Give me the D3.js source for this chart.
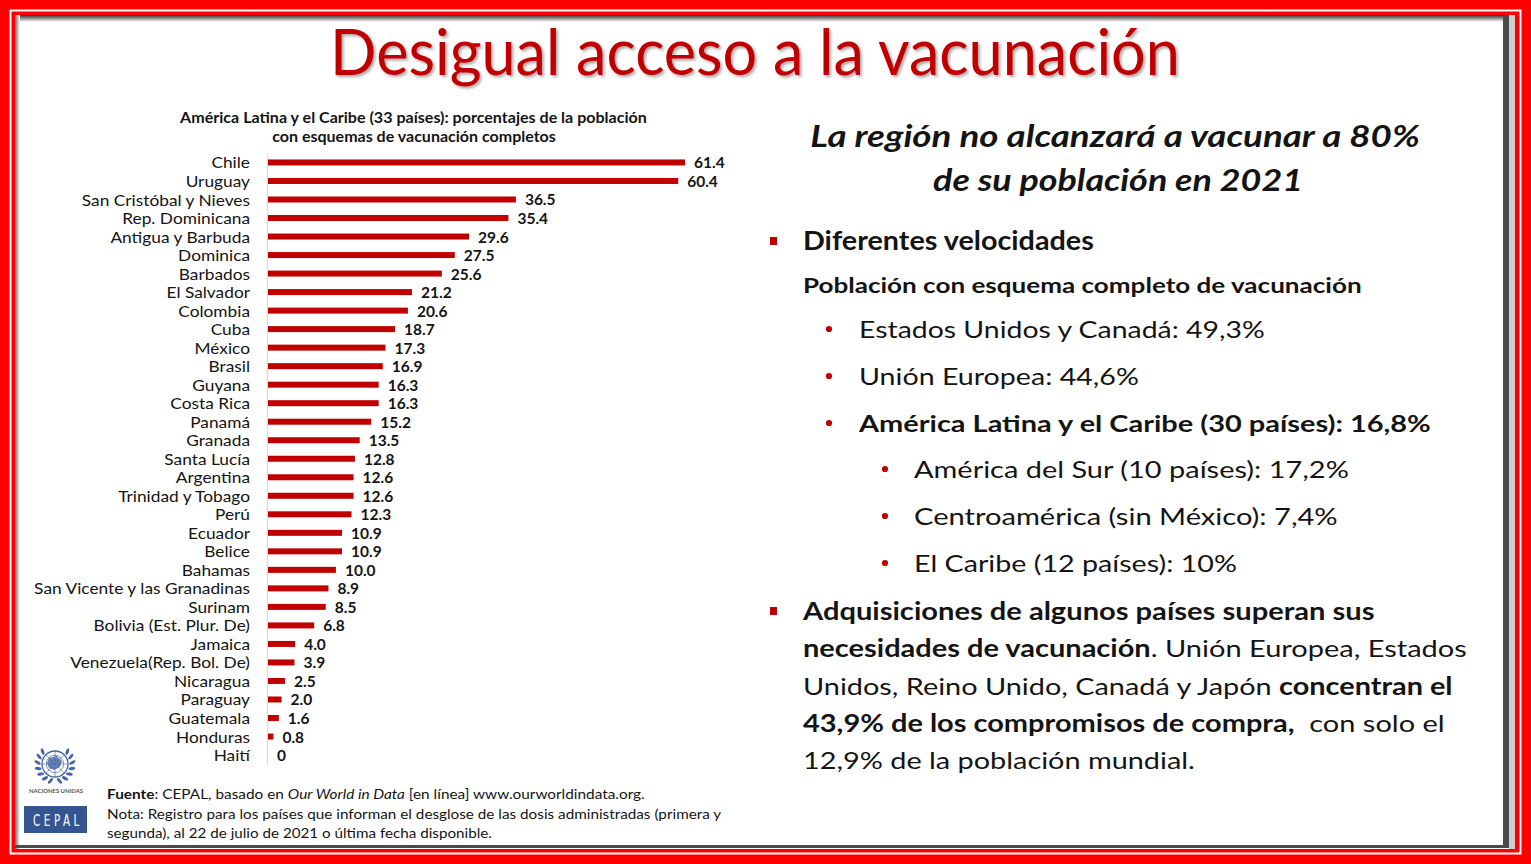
<!DOCTYPE html>
<html>
<head>
<meta charset="utf-8">
<script src="https://cdn.jsdelivr.net/npm/d3@7"></script>
<style>
  html, body { margin: 0; padding: 0; background: #fff; }
  svg { display: block; }
  text { white-space: pre; }
</style>
</head>
<body>
<svg id="chart" width="1531" height="864"></svg>
<script>
// ---------------- DATA ----------------
const countries = [
  "Chile", "Uruguay", "San Cristóbal y Nieves", "Rep. Dominicana", "Antigua y Barbuda",
  "Dominica", "Barbados", "El Salvador", "Colombia", "Cuba", "México", "Brasil", "Guyana",
  "Costa Rica", "Panamá", "Granada", "Santa Lucía", "Argentina", "Trinidad y Tobago", "Perú",
  "Ecuador", "Belice", "Bahamas", "San Vicente y las Granadinas", "Surinam",
  "Bolivia (Est. Plur. De)", "Jamaica", "Venezuela(Rep. Bol. De)", "Nicaragua", "Paraguay",
  "Guatemala", "Honduras", "Haití"
];
const values = [
  61.4, 60.4, 36.5, 35.4, 29.6, 27.5, 25.6, 21.2, 20.6, 18.7, 17.3, 16.9, 16.3,
  16.3, 15.2, 13.5, 12.8, 12.6, 12.6, 12.3, 10.9, 10.9, 10.0, 8.9, 8.5,
  6.8, 4.0, 3.9, 2.5, 2.0, 1.6, 0.8, 0
];
const valueLabels = [
  "61.4", "60.4", "36.5", "35.4", "29.6", "27.5", "25.6", "21.2", "20.6", "18.7", "17.3", "16.9", "16.3",
  "16.3", "15.2", "13.5", "12.8", "12.6", "12.6", "12.3", "10.9", "10.9", "10.0", "8.9", "8.5",
  "6.8", "4.0", "3.9", "2.5", "2.0", "1.6", "0.8", "0"
];
const pageTitle = "Desigual acceso a la vacunación";
const chartTitle = [
  "América Latina y el Caribe (33 países): porcentajes de la población",
  "con esquemas de vacunación completos"
];
const heading = ["La región no alcanzará a vacunar a 80%", "de su población en 2021"];
const bullet1 = "Diferentes velocidades";
const bullet1Sub = "Población con esquema completo de vacunación";
const level1Items = [
  [{t: "Estados Unidos y Canadá: 49,3%"}],
  [{t: "Unión Europea: 44,6%"}],
  [{t: "América Latina y el Caribe (30 países): 16,8%", b: true}]
];
const level2Items = [
  [{t: "América del Sur (10 países): 17,2%"}],
  [{t: "Centroamérica (sin México): 7,4%"}],
  [{t: "El Caribe (12 países): 10%"}]
];
const paragraph = [
  [{t: "Adquisiciones de algunos países superan sus", b: true}],
  [{t: "necesidades de vacunación", b: true}, {t: ". Unión Europea, Estados"}],
  [{t: "Unidos, Reino Unido, Canadá y Japón "}, {t: "concentran el", b: true}],
  [{t: "43,9% de los compromisos de compra,", b: true}, {t: "  con solo el"}],
  [{t: "12,9% de la población mundial."}]
];
const footer = [
  [{t: "Fuente", b: true}, {t: ": CEPAL, basado en "}, {t: "Our World in Data", i: true}, {t: " [en línea] www.ourworldindata.org."}],
  [{t: "Nota: Registro para los países que informan el desglose de las dosis administradas (primera y"}],
  [{t: "segunda), al 22 de julio de 2021 o última fecha disponible."}]
];

// ---------------- SETUP ----------------
const W = 1531, H = 864;
const FONT = "Lato, 'Open Sans', 'Noto Sans', sans-serif";
const RED = "#c00000";
const INK = "#141414";
const svg = d3.select("#chart");

const defs = svg.append("defs");
const sh = defs.append("filter").attr("id", "tshadow").attr("x", "-5%").attr("y", "-20%").attr("width", "110%").attr("height", "150%");
sh.append("feDropShadow").attr("dx", 2).attr("dy", 2).attr("stdDeviation", 1.4)
  .attr("flood-color", "#000").attr("flood-opacity", 0.35);
const gTop = defs.append("linearGradient").attr("id", "gTop").attr("x1", 0).attr("y1", 0).attr("x2", 0).attr("y2", 1);
gTop.append("stop").attr("offset", "0%").attr("stop-color", "#2e2e2e");
gTop.append("stop").attr("offset", "45%").attr("stop-color", "#8a8a8a");
gTop.append("stop").attr("offset", "100%").attr("stop-color", "#ffffff");
const gLeft = defs.append("linearGradient").attr("id", "gLeft").attr("x1", 0).attr("y1", 0).attr("x2", 1).attr("y2", 0);
gLeft.append("stop").attr("offset", "0%").attr("stop-color", "#6a6a6a");
gLeft.append("stop").attr("offset", "100%").attr("stop-color", "#ffffff");

// Frame
svg.append("rect").attr("x", 0).attr("y", 0).attr("width", W).attr("height", H).attr("fill", "#ff0000");
svg.append("rect").attr("x", 10.5).attr("y", 10.5).attr("width", W - 21).attr("height", H - 21)
  .attr("fill", "none").attr("stroke", "#ffffff").attr("stroke-width", 2);
svg.append("rect").attr("x", 15).attr("y", 15).attr("width", 1500).attr("height", 834).attr("fill", "#ffffff");
svg.append("rect").attr("x", 15).attr("y", 15).attr("width", 1500).attr("height", 7).attr("fill", "url(#gTop)");
svg.append("rect").attr("x", 15).attr("y", 15).attr("width", 5).attr("height", 834).attr("fill", "url(#gLeft)");
svg.append("rect").attr("x", 1503).attr("y", 15).attr("width", 6).attr("height", 833).attr("fill", "#4a4a4a");
svg.append("rect").attr("x", 1509).attr("y", 15).attr("width", 6).attr("height", 834).attr("fill", "#cfcfcf");
svg.append("rect").attr("x", 15).attr("y", 845).attr("width", 1494).attr("height", 3).attr("fill", "#4a4a4a");

// Text helper: draws text at origin then scales horizontally to a target width
function txt(parent, o) {
  const g = parent.append("g");
  const t = g.append("text")
    .attr("text-anchor", o.anchor || "start")
    .attr("font-family", o.family || FONT)
    .attr("font-size", o.size)
    .attr("font-weight", o.weight || 400)
    .attr("font-style", o.style || "normal")
    .attr("fill", o.fill || INK);
  if (o.spacing) t.attr("letter-spacing", o.spacing);
  o.parts.forEach(p => {
    const ts = t.append("tspan").text(p.t);
    if (p.b) ts.attr("font-weight", 700);
    if (p.i) ts.attr("font-style", "italic");
  });
  let s = 1;
  if (o.width) {
    const w = t.node().getComputedTextLength();
    if (w > 0) s = o.width / w;
  }
  g.attr("transform", `translate(${o.x},${o.y}) scale(${s},1)`);
  return g;
}

// ---------------- TITLE ----------------
txt(svg, {x: 755, y: 75, anchor: "middle", size: 64, fill: RED, width: 850, parts: [{t: pageTitle}]})
  .attr("filter", "url(#tshadow)");

// ---------------- CHART ----------------
txt(svg, {x: 413.5, y: 122.5, anchor: "middle", size: 14.5, weight: 700, width: 467, parts: [{t: chartTitle[0]}]});
txt(svg, {x: 414, y: 142, anchor: "middle", size: 14.5, weight: 700, width: 284, parts: [{t: chartTitle[1]}]});

const y = d3.scalePoint().domain(countries).range([153.2, 764.3]).padding(0.5);
const x = d3.scaleLinear().domain([0, 61.4]).range([268, 685]);

const axisG = svg.append("g").attr("transform", "translate(267,0)")
  .call(d3.axisLeft(y).tickSize(0).tickPadding(17));
axisG.select(".domain").attr("stroke", "#d9d9d9").attr("stroke-width", 1.2);
axisG.selectAll(".tick text")
  .attr("font-family", FONT).attr("font-size", 15.5).attr("fill", INK)
  .attr("x", 0).attr("dy", null).attr("y", 5.5);
let probe = null;
axisG.selectAll(".tick text").each(function(d) { if (d === "San Vicente y las Granadinas") probe = this; });
const labScale = probe ? 216 / probe.getComputedTextLength() : 1;
axisG.selectAll(".tick text").attr("transform", `translate(-17,0) scale(${labScale},1)`);

const rows = countries.map((c, i) => ({c, v: values[i], l: valueLabels[i]}));
svg.append("g").selectAll("rect").data(rows).join("rect")
  .attr("x", x(0)).attr("y", d => y(d.c) - 3)
  .attr("width", d => x(d.v) - x(0)).attr("height", 6)
  .attr("fill", RED);
svg.append("g").selectAll("text").data(rows).join("text")
  .attr("x", d => x(d.v) + 9).attr("y", d => y(d.c) + 6)
  .attr("font-family", FONT).attr("font-size", 15.5).attr("font-weight", 700).attr("fill", INK)
  .text(d => d.l);

// ---------------- RIGHT TEXT ----------------
txt(svg, {x: 1115, y: 147, anchor: "middle", size: 30, weight: 700, style: "italic", width: 610, parts: [{t: heading[0]}]});
txt(svg, {x: 1118, y: 191, anchor: "middle", size: 30, weight: 700, style: "italic", width: 370, parts: [{t: heading[1]}]});

function square(cy) {
  svg.append("rect").attr("x", 770).attr("y", cy - 3.5).attr("width", 7).attr("height", 8).attr("fill", RED);
}
function dot(cx, cy) {
  svg.append("circle").attr("cx", cx).attr("cy", cy).attr("r", 3.1).attr("fill", RED);
}
square(240.5);
txt(svg, {x: 803, y: 250, size: 27, weight: 700, width: 291, parts: [{t: bullet1}]});
txt(svg, {x: 803, y: 293, size: 21.5, weight: 700, width: 559, parts: [{t: bullet1Sub}]});

const l1Y = [338, 385, 432], l1W = [406, 280, 572];
level1Items.forEach((parts, i) => {
  dot(829, l1Y[i] - 9);
  txt(svg, {x: 859, y: l1Y[i], size: 23.5, width: l1W[i], parts});
});
const l2Y = [478, 525, 572], l2W = [435, 424, 323];
level2Items.forEach((parts, i) => {
  dot(885, l2Y[i] - 9);
  txt(svg, {x: 914, y: l2Y[i], size: 23.5, width: l2W[i], parts});
});

square(610.5);
const pY = [620, 657, 695, 732, 769], pW = [572, 664, 650, 642, 392];
paragraph.forEach((parts, i) => {
  txt(svg, {x: 803, y: pY[i], size: 24, width: pW[i], parts});
});

// ---------------- FOOTER ----------------
const fY = [799, 818.5, 837.5], fW = [538, 615, 385];
footer.forEach((parts, i) => {
  txt(svg, {x: 107, y: fY[i], size: 14, width: fW[i], parts});
});

// ---------------- LOGOS ----------------
const BLUE = "#4565a3";
const un = svg.append("g").attr("transform", "translate(55,764)");
un.append("circle").attr("r", 13).attr("fill", "none").attr("stroke", BLUE).attr("stroke-width", 1.3);
un.append("circle").attr("r", 8.7).attr("fill", "none").attr("stroke", BLUE).attr("stroke-width", 0.7);
un.append("circle").attr("r", 4.3).attr("fill", "none").attr("stroke", BLUE).attr("stroke-width", 0.7);
un.append("line").attr("x1", -13).attr("x2", 13).attr("y1", 0).attr("y2", 0).attr("stroke", BLUE).attr("stroke-width", 0.6);
un.append("line").attr("x1", 0).attr("x2", 0).attr("y1", -13).attr("y2", 13).attr("stroke", BLUE).attr("stroke-width", 0.6);
un.append("line").attr("x1", -9.2).attr("x2", 9.2).attr("y1", -9.2).attr("y2", 9.2).attr("stroke", BLUE).attr("stroke-width", 0.5);
un.append("line").attr("x1", -9.2).attr("x2", 9.2).attr("y1", 9.2).attr("y2", -9.2).attr("stroke", BLUE).attr("stroke-width", 0.5);
un.append("path").attr("d", "M-6,-6 L2,-8 L7,-3 L5,3 L-1,6 L-6,4 L-8,-1 Z").attr("fill", BLUE).attr("opacity", 0.8);
const leafAngles = [255, 235, 215, 195, 175, 155, 135];
[1, -1].forEach(side => {
  leafAngles.forEach(deg => {
    const a = (side === 1 ? deg : 180 - deg) * Math.PI / 180;
    const cx = 17.5 * Math.cos(a), cy = -17.5 * Math.sin(a);
    const rot = -(side === 1 ? deg : 180 - deg) + 90 + side * 25;
    un.append("ellipse").attr("cx", cx).attr("cy", cy).attr("rx", 1.5).attr("ry", 3.4)
      .attr("transform", `rotate(${rot},${cx},${cy})`)
      .attr("fill", BLUE);
  });
});
svg.append("text").attr("x", 56).attr("y", 793).attr("text-anchor", "middle")
  .attr("font-family", FONT).attr("font-size", 5).attr("font-weight", 700).attr("fill", "#555")
  .attr("textLength", 54).attr("lengthAdjust", "spacingAndGlyphs").text("NACIONES UNIDAS");
svg.append("rect").attr("x", 24).attr("y", 806).attr("width", 63).attr("height", 27).attr("fill", "#34558f");
txt(svg, {x: 33, y: 826, size: 16, family: "'DejaVu Sans Condensed', 'DejaVu Sans', sans-serif",
  fill: "#ffffff", spacing: 5, width: 50, parts: [{t: "CEPAL"}]});
</script>
</body>
</html>
